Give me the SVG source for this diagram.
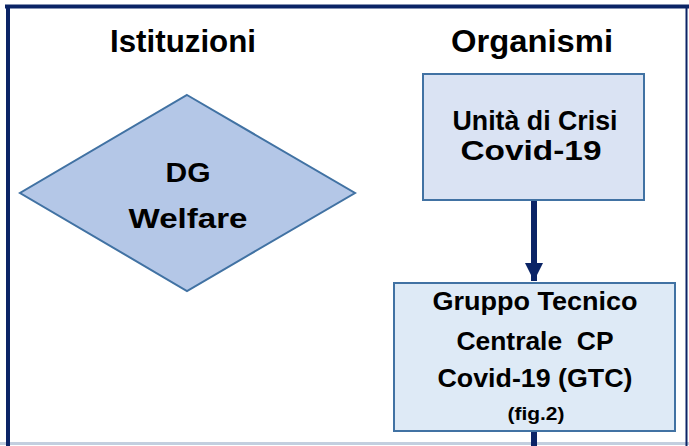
<svg xmlns="http://www.w3.org/2000/svg" width="689" height="446" viewBox="0 0 689 446">
<style>
.t{font-family:"Liberation Sans",Arial,sans-serif;font-weight:bold;fill:#000;text-anchor:middle}
.node{stroke:#4172a3;stroke-width:2}
</style>
<defs>
<marker id="ah" viewBox="0 0 10 10" refX="10" refY="5" markerWidth="3.2" markerHeight="3" orient="auto" markerUnits="strokeWidth">
<path d="M0,0 L10,5 L0,10 z" fill="#0b2466"/>
</marker>
</defs>
<rect width="689" height="446" fill="#fff"/>
<g id="frame">
<line x1="0" y1="443.5" x2="689" y2="443.5" stroke="#c3cfdf" stroke-width="3"/>
<line x1="5" y1="6.5" x2="689" y2="6.5" stroke="#0b2466" stroke-width="4"/>
<line x1="8" y1="5" x2="8" y2="446" stroke="#0b2466" stroke-width="4"/>
<line x1="686.5" y1="5" x2="686.5" y2="446" stroke="#0b2466" stroke-width="2"/>
</g>
<g id="headers">
<text class="t" x="183" y="52" font-size="32" textLength="146" lengthAdjust="spacingAndGlyphs">Istituzioni</text>
<text class="t" x="532" y="52" font-size="32" textLength="162" lengthAdjust="spacingAndGlyphs">Organismi</text>
</g>
<g id="connectors">
<line x1="534" y1="200" x2="534" y2="281" stroke="#0b2466" stroke-width="6" marker-end="url(#ah)"/>
<line x1="534" y1="431" x2="534" y2="446" stroke="#0b2466" stroke-width="6"/>
</g>
<g id="dg-welfare">
<polygon class="node" points="187,95 355,193 187,291 20,193" fill="#b4c7e7"/>
<text class="t" x="188" y="182" font-size="28" textLength="45" lengthAdjust="spacingAndGlyphs">DG</text>
<text class="t" x="188" y="228" font-size="28" textLength="119" lengthAdjust="spacingAndGlyphs">Welfare</text>
</g>
<g id="unita-crisi">
<rect class="node" x="423" y="74" width="221" height="126" fill="#dae3f3"/>
<text class="t" x="535" y="130" font-size="27" textLength="165" lengthAdjust="spacingAndGlyphs">Unità di Crisi</text>
<text class="t" x="531" y="160" font-size="27" textLength="141" lengthAdjust="spacingAndGlyphs">Covid-19</text>
</g>
<g id="gtc">
<rect class="node" x="394" y="283" width="281" height="148" fill="#deeaf6"/>
<text class="t" x="535" y="310" font-size="25" textLength="205" lengthAdjust="spacingAndGlyphs">Gruppo Tecnico</text>
<text class="t" x="535" y="350" font-size="25" textLength="157" lengthAdjust="spacingAndGlyphs" xml:space="preserve">Centrale  CP</text>
<text class="t" x="535" y="387" font-size="25" textLength="195" lengthAdjust="spacingAndGlyphs">Covid-19 (GTC)</text>
<text class="t" x="536" y="420" font-size="19" textLength="57" lengthAdjust="spacingAndGlyphs">(fig.2)</text>
</g>
</svg>
